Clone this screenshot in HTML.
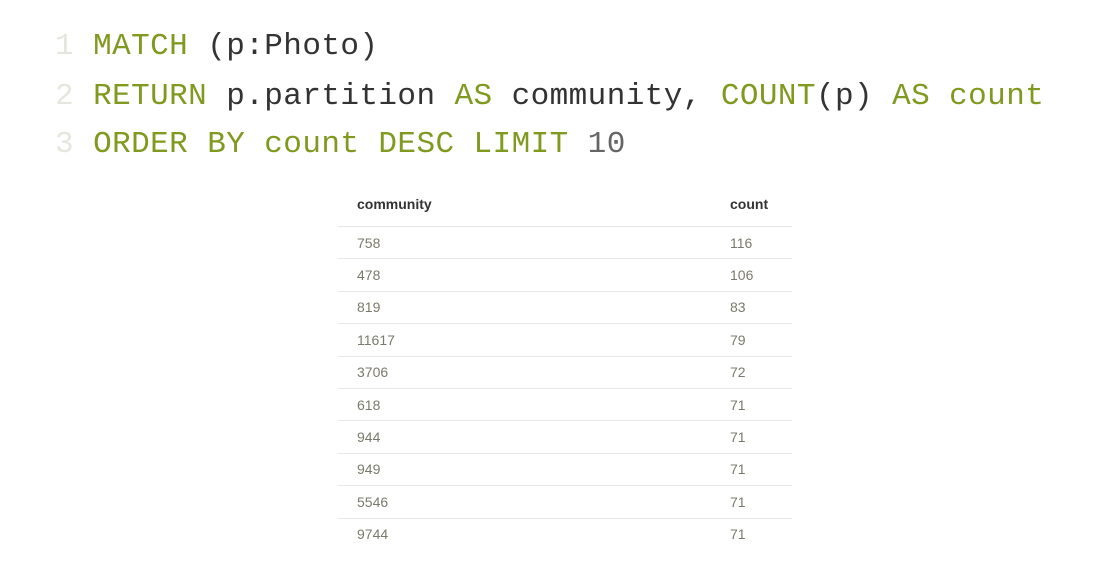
<!DOCTYPE html>
<html><head><style>
body{margin:0;background:#fff;width:1116px;height:570px;position:relative;overflow:hidden}
.code{position:absolute;left:55px;font-family:"Liberation Mono",monospace;font-size:31px;letter-spacing:0.42px;white-space:pre;color:#333;line-height:40px}
.k{color:#7f9a1f}.n{color:#e6e6df}.num{color:#666}
table{position:absolute;left:338px;top:188px;width:454px;border-collapse:collapse;font-family:"Liberation Sans",sans-serif;font-size:14px}
th{text-align:left;font-weight:bold;color:#333;height:32px;padding:0 0 6px 19px;border-bottom:1px solid #e6e6e6}
td{color:#7a7a6c;height:31.4px;padding:0 0 0 19px;border-bottom:1px solid #e8e8e8}
th:nth-child(2),td:nth-child(2){width:62px;padding-left:0}
</style></head><body>
<div class="code" style="top:27px"><span class="n">1</span> <span class="k">MATCH</span> (p:Photo)</div>
<div class="code" style="top:77px"><span class="n">2</span> <span class="k">RETURN</span> p.partition <span class="k">AS</span> community, <span class="k">COUNT</span>(p) <span class="k">AS count</span></div>
<div class="code" style="top:125px"><span class="n">3</span> <span class="k">ORDER BY count DESC LIMIT</span> <span class="num">10</span></div>
<table>
<tr><th>community</th><th>count</th></tr>
<tr><td>758</td><td>116</td></tr>
<tr><td>478</td><td>106</td></tr>
<tr><td>819</td><td>83</td></tr>
<tr><td>11617</td><td>79</td></tr>
<tr><td>3706</td><td>72</td></tr>
<tr><td>618</td><td>71</td></tr>
<tr><td>944</td><td>71</td></tr>
<tr><td>949</td><td>71</td></tr>
<tr><td>5546</td><td>71</td></tr>
<tr><td style="border:none">9744</td><td style="border:none">71</td></tr>
</table>
</body></html>
